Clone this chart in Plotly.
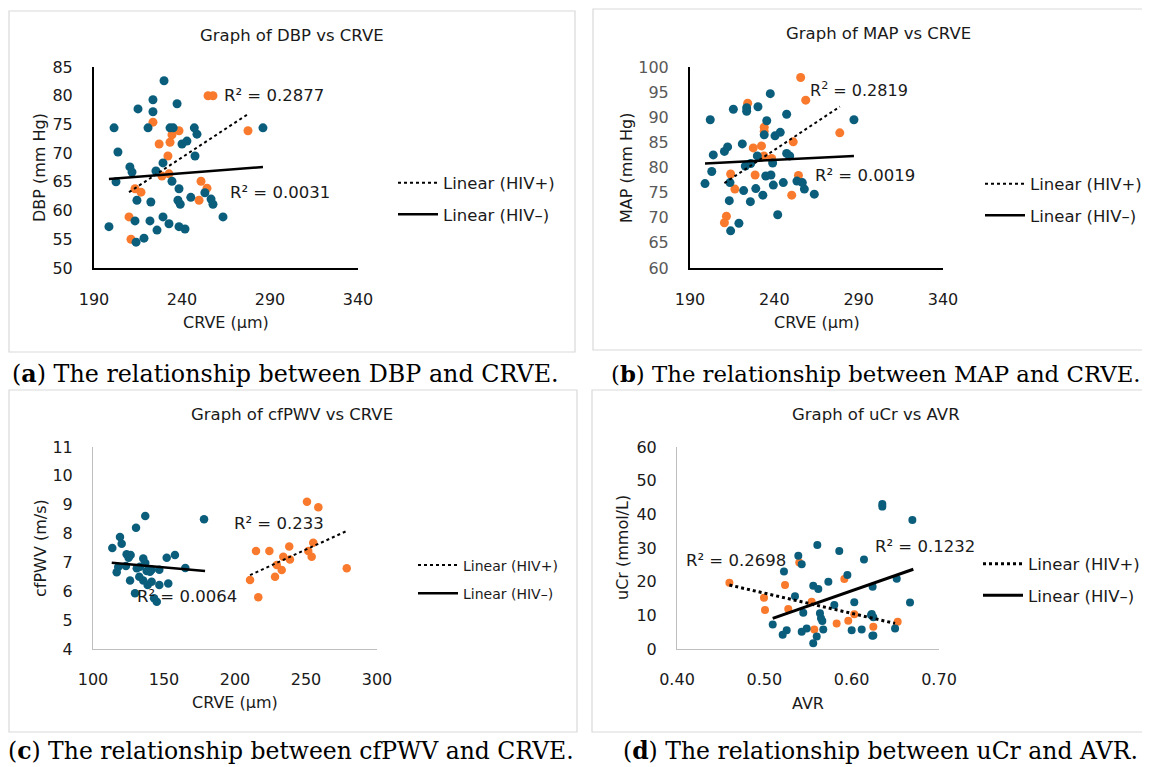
import plotly.graph_objects as go

# The page has an 8px body margin, so the figure is drawn 8px smaller and all
# positions are given in the reference picture's pixels, shifted by that margin.
OFF = 8
W, H = 1150 - OFF, 767 - OFF
def px(x): return (x - OFF) / W
def py(y): return 1 - (y - OFF) / H

BLUE = "#0b5d7c"
ORANGE = "#f97a2c"
FONT = "DejaVu Sans"
SERIF = "DejaVu Serif"
TXT = "#1a1a1a"

# ---------------- (a) DBP vs CRVE ----------------
a_neg_x = [201.4, 203.6, 215, 223.5, 223.5, 220.7, 229.8, 237.2, 233.2, 235, 247, 248.5, 240, 242.8, 247.4,
           210.4, 211.6, 225.2, 229.2, 234.3, 202.5, 238.3, 286, 253, 214.4, 222.3, 237.7, 239, 245, 256.5,
           257.6, 263.3, 198.5, 213.3, 221.8, 229.2, 232.6, 225.8, 238.3, 241.7, 218.4, 213.9]
a_neg_y = [74.4, 70.2, 77.7, 79.3, 77.2, 74.4, 82.6, 78.6, 74.4, 74.4, 74.4, 73.3, 71.6, 72.1, 69.5,
           67.6, 66.7, 66.9, 68.3, 65.1, 65, 63.8, 74.4, 63.1, 61.8, 61.5, 61.8, 61.1, 62.3, 62,
           61.1, 58.9, 57.2, 58.2, 58.2, 58.9, 57.7, 56.6, 57.2, 56.8, 55.2, 54.5]
a_pos_x = [223.5, 254.8, 257.6, 227, 233.2, 234.3, 238.3, 277.5, 232, 228.6, 232.6, 250.8, 254.2,
           213.3, 216.7, 249.7, 209.9, 211]
a_pos_y = [75.4, 80, 80, 71.6, 71.9, 73.2, 73.9, 73.9, 69.5, 66, 66.4, 65.1, 63.9,
           63.8, 63.2, 61.8, 58.9, 55]
a_fitpos_x = [209.9, 277.5]; a_fitpos_y = [63.2, 76.8]
a_fitneg_x = [198.5, 286.0]; a_fitneg_y = [65.5, 67.6]

# ---------------- (b) MAP vs CRVE ----------------
b_neg_x = [202, 215.7, 223.6, 223.6, 230.3, 237.6, 235.5, 247.3, 287.2, 234, 240.4, 243.5, 203.8, 210.4,
           212.3, 221, 229.9, 222.8, 226, 239, 247.3, 249.1, 202.9, 198.9, 213.7, 234.9, 238, 239.4,
           245.3, 253.4, 256.6, 257.8, 263.7, 221.8, 229, 233.2, 213.3, 225.8, 242, 219, 214.1]
b_neg_y = [89.5, 91.6, 91.2, 91.9, 92.1, 94.7, 89.3, 90.6, 89.5, 86.5, 86.3, 87, 82.5, 83.2,
           84.1, 84.7, 82.3, 80.3, 80.8, 80.9, 82.8, 82.3, 79.2, 76.8, 77, 78.3, 78.5, 76.5,
           77, 77.3, 77, 75.7, 74.7, 75.4, 75.8, 74.5, 73.4, 73.2, 70.6, 68.9, 67.4]
b_pos_x = [255.6, 258.6, 224.2, 234, 234, 278.8, 251.2, 227.5, 232.4, 233.8, 238.4, 214.1, 228.6,
           254.3, 216.6, 250.3, 211.6, 210.4]
b_pos_y = [97.9, 93.4, 92.8, 88.0, 87.2, 86.9, 85.1, 83.9, 84.3, 82.3, 81.8, 78.7, 78.5,
           78.4, 75.7, 74.5, 70.3, 69]
b_fitpos_x = [210.4, 278.8]; b_fitpos_y = [76.9, 92.1]
b_fitneg_x = [198.9, 287.2]; b_fitneg_y = [80.8, 82.3]

# ---------------- (c) cfPWV vs CRVE ----------------
c_neg_x = [136.8, 178.2, 130.3, 119, 120.2, 113.6, 123.7, 126.5, 125.1, 157.7, 151.9, 135.4, 136.8, 165,
           117.8, 123.2, 130.8, 133.1, 137.8, 141.3, 146.7, 116.7, 126.1, 132.6, 135.4, 138.5, 140.1,
           141.3, 146.7, 153, 129.6, 144.9, 143]
c_neg_y = [8.61, 8.5, 8.2, 7.88, 7.65, 7.5, 7.28, 7.26, 7.16, 7.26, 7.16, 7.14, 6.98, 6.81,
           6.84, 6.88, 6.8, 6.85, 6.7, 6.75, 6.75, 6.66, 6.37, 6.5, 6.37, 6.22, 6.68,
           6.33, 6.22, 6.27, 5.93, 5.64, 5.76]
c_pos_x = [250.7, 258.7, 255.1, 251.6, 254, 278.7, 238.7, 214.8, 224.2, 234, 229.4, 232.9, 238.2,
           210.6, 216.4, 228.2]
c_pos_y = [9.1, 8.91, 7.68, 7.4, 7.2, 6.8, 7.1, 7.4, 7.4, 7.2, 6.91, 6.74, 7.55,
           6.39, 5.79, 6.5]
c_fitpos_x = [210.6, 279.1]; c_fitpos_y = [6.56, 8.1]
c_fitneg_x = [113.2, 178.9]; c_fitneg_y = [6.99, 6.7]

# ---------------- (d) uCr vs AVR ----------------
d_neg_x = [0.5607, 0.5389, 0.5428, 0.5858, 0.6141, 0.5225, 0.5951, 0.5733, 0.556, 0.5618, 0.5351, 0.5801,
           0.603, 0.5446, 0.5637, 0.5649, 0.5664, 0.5096, 0.5256, 0.521, 0.5428, 0.5485, 0.56, 0.556,
           0.5675, 0.6, 0.6115, 0.6222, 0.6237, 0.6351, 0.6351, 0.6695, 0.6516, 0.624, 0.6668, 0.623,
           0.6248, 0.6248, 0.6497]
d_neg_y = [30.9, 27.7, 25.2, 29.1, 26.6, 23, 22, 20, 18.8, 17.8, 15.7, 13.1,
           13.9, 10.8, 10.6, 9.1, 8.3, 7.3, 5.6, 4.2, 5.1, 6.1, 3.7, 1.7,
           5.8, 5.6, 5.8, 10.1, 3.9, 43.1, 42.3, 38.3, 20.9, 18.5, 13.8, 10.4,
           9.4, 4, 6.1]
d_pos_x = [0.54, 0.46, 0.5237, 0.5916, 0.4996, 0.5008, 0.5274, 0.5542, 0.5828, 0.5961, 0.603, 0.5572,
           0.6248, 0.6527]
d_pos_y = [25.7, 19.7, 19, 20.8, 15.2, 11.6, 11.9, 14, 7.6, 8.4, 10.3, 5.8, 6.6, 8.1]
d_fitpos_x = [0.46, 0.6497]; d_fitpos_y = [19, 7.6]
d_fitneg_x = [0.5096, 0.6706]; d_fitneg_y = [9.1, 23.7]

LEG_POS = "Linear (HIV+)"
LEG_NEG = "Linear (HIV–)"

fig = go.Figure()

panels = [
    dict(ax="", pos=(a_pos_x, a_pos_y), neg=(a_neg_x, a_neg_y), fp=(a_fitpos_x, a_fitpos_y),
         fn=(a_fitneg_x, a_fitneg_y), leg="legend", wdot=2, wsol=2.5, msize=9),
    dict(ax="2", pos=(b_pos_x, b_pos_y), neg=(b_neg_x, b_neg_y), fp=(b_fitpos_x, b_fitpos_y),
         fn=(b_fitneg_x, b_fitneg_y), leg="legend2", wdot=2, wsol=2.5, msize=9),
    dict(ax="3", pos=(c_pos_x, c_pos_y), neg=(c_neg_x, c_neg_y), fp=(c_fitpos_x, c_fitpos_y),
         fn=(c_fitneg_x, c_fitneg_y), leg="legend3", wdot=2, wsol=2.5, msize=8.5),
    dict(ax="4", pos=(d_pos_x, d_pos_y), neg=(d_neg_x, d_neg_y), fp=(d_fitpos_x, d_fitpos_y),
         fn=(d_fitneg_x, d_fitneg_y), leg="legend4", wdot=3, wsol=3, msize=8),
]

for p in panels:
    xa, ya = "x" + p["ax"], "y" + p["ax"]
    fig.add_trace(go.Scatter(x=p["pos"][0], y=p["pos"][1], mode="markers", xaxis=xa, yaxis=ya,
                             marker=dict(color=ORANGE, size=p["msize"]), showlegend=False, hoverinfo="skip"))
    fig.add_trace(go.Scatter(x=p["neg"][0], y=p["neg"][1], mode="markers", xaxis=xa, yaxis=ya,
                             marker=dict(color=BLUE, size=p["msize"]), showlegend=False, hoverinfo="skip"))
    fig.add_trace(go.Scatter(x=p["fp"][0], y=p["fp"][1], mode="lines", xaxis=xa, yaxis=ya,
                             line=dict(color="black", width=p["wdot"], dash="dot"), name=LEG_POS,
                             legend=p["leg"], legendgroup=p["leg"] + "p", showlegend=True))
    fig.add_trace(go.Scatter(x=p["fn"][0], y=p["fn"][1], mode="lines", xaxis=xa, yaxis=ya,
                             line=dict(color="black", width=p["wsol"]), name=LEG_NEG,
                             legend=p["leg"], legendgroup=p["leg"] + "n", showlegend=True))

def xax(l, r, rng, dtick, lc, lw, tc, fmt=None):
    d = dict(domain=[px(l), px(r)], range=rng, dtick=dtick, tick0=rng[0], showgrid=False, zeroline=False,
             showline=True, linecolor=lc, linewidth=lw, ticks="", ticklabelstandoff=16,
             tickfont=dict(family=FONT, size=16, color=tc), fixedrange=True, automargin=False)
    if fmt:
        d["tickformat"] = fmt
    return d

def yax(t, b, rng, dtick, lc, lw, tc, anchor):
    return dict(domain=[py(b), py(t)], range=rng, dtick=dtick, tick0=rng[0], showgrid=False, zeroline=False,
                showline=True, linecolor=lc, linewidth=lw, ticks="", ticklabelstandoff=16,
                tickfont=dict(family=FONT, size=16, color=tc), anchor=anchor, fixedrange=True,
                automargin=False)

layout = dict(
    width=W, height=H, margin=dict(l=0, r=0, t=0, b=0, pad=0, autoexpand=False),
    paper_bgcolor="white", plot_bgcolor="rgba(0,0,0,0)",
    xaxis=xax(94, 358, [190, 340], 50, "black", 2, TXT) | dict(anchor="y"),
    yaxis=yax(67, 268, [50, 85], 5, "black", 2, TXT, "x"),
    xaxis2=xax(690, 943, [190, 340], 50, "black", 2, TXT) | dict(anchor="y2"),
    yaxis2=yax(67, 268, [60, 100], 5, "black", 2, "#595959", "x2"),
    xaxis3=xax(93, 377, [100, 300], 50, "#bfbfbf", 1, TXT) | dict(anchor="y3"),
    yaxis3=yax(447, 649, [4, 11], 1, "#bfbfbf", 1, TXT, "x3"),
    xaxis4=xax(677, 939, [0.4, 0.7], 0.1, "#bfbfbf", 1, TXT, ".2f") | dict(anchor="y4"),
    yaxis4=yax(447, 649, [0, 60], 10, "#bfbfbf", 1, TXT, "x4"),
)

def leg(x, yc, size):
    return dict(x=px(x), y=py(yc), xanchor="left", yanchor="middle", bgcolor="rgba(0,0,0,0)",
                font=dict(family=FONT, size=size, color=TXT), tracegroupgap=7, itemwidth=40,
                borderwidth=0, itemclick=False, itemdoubleclick=False)

layout["legend"] = leg(393, 198.5, 16.5)
layout["legend2"] = leg(980, 199.5, 16.5)
layout["legend3"] = leg(413, 579.5, 14)
layout["legend4"] = leg(978, 579.5, 16.5)
fig.update_layout(**layout)

# panel frames
for (l, t, r, b) in [(7, 11, 575, 352), (593, 9, 1148, 350), (7, 390, 577, 732), (592, 390, 1148, 732)]:
    fig.add_shape(type="rect", xref="paper", yref="paper", x0=px(max(l, OFF + 1)), x1=px(r), y0=py(b),
                  y1=py(max(t, OFF + 1)), line=dict(color="#d9d9d9", width=1.2),
                  fillcolor="rgba(0,0,0,0)", layer="below")

def ann(text, x, y, size=16, xanchor="center", angle=0, family=FONT, color=TXT):
    fig.add_annotation(text=text, x=px(x), y=py(y), xref="paper", yref="paper", showarrow=False,
                       xanchor=xanchor, yanchor="middle", textangle=angle,
                       font=dict(family=family, size=size, color=color))

# titles
ann("Graph of DBP vs CRVE", 292, 35, size=16.5)
ann("Graph of MAP vs CRVE", 878, 34, size=16.5)
ann("Graph of cfPWV vs CRVE", 292, 414, size=16.5)
ann("Graph of uCr vs AVR", 876, 414, size=16.5)
# axis titles
ann("DBP (mm Hg)", 40, 168, angle=-90)
ann("MAP (mm Hg)", 627, 168, angle=-90)
ann("cfPWV (m/s)", 40, 548, angle=-90)
ann("uCr (mmol/L)", 622, 548, angle=-90)
ann("CRVE (μm)", 226, 322)
ann("CRVE (μm)", 817, 322)
ann("CRVE (μm)", 235, 702)
ann("AVR", 808, 703)
# R² labels
ann("R² = 0.2877", 222, 95, size=16.5, xanchor="left")
ann("R² = 0.0031", 228, 193, size=16.5, xanchor="left")
ann("R<sup>2</sup> = 0.2819", 808, 89, size=16, xanchor="left")
ann("R² = 0.0019", 813, 175, size=16.5, xanchor="left")
ann("R² = 0.233", 232, 523, size=16.5, xanchor="left")
ann("R² = 0.0064", 135, 596, size=16.5, xanchor="left")
ann("R² = 0.2698", 684, 560, size=16.5, xanchor="left")
ann("R² = 0.1232", 873, 546, size=16.5, xanchor="left")
# captions
ann("(<b>a</b>) The relationship between DBP and CRVE.", 285, 374, size=23.8, family=SERIF, color="black")
ann("(<b>b</b>) The relationship between MAP and CRVE.", 876, 374, size=22.8, family=SERIF, color="black")
ann("(<b>c</b>) The relationship between cfPWV and CRVE.", 291, 751, size=23.5, family=SERIF, color="black")
ann("(<b>d</b>) The relationship between uCr and AVR.", 880, 751, size=23.5, family=SERIF, color="black")

fig.write_html("out.html")
